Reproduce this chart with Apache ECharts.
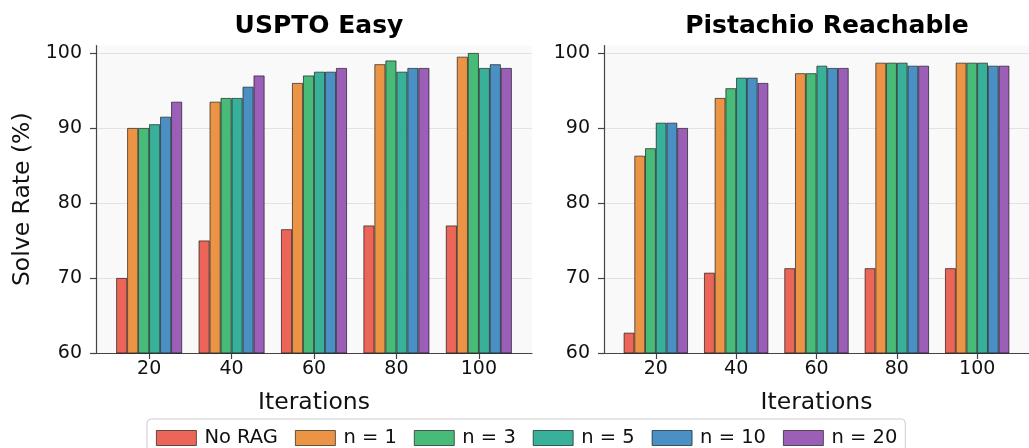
<!DOCTYPE html>
<html>
<head>
<meta charset="utf-8">
<script src="https://cdn.jsdelivr.net/npm/echarts@6/dist/echarts.min.js"></script>
<style>
  html, body { margin: 0; padding: 0; background: #ffffff; }
  #chart { width: 1029px; height: 448px; }
</style>
</head>
<body>
<div id="chart"></div>
<script>
// ---------- data ----------
const categories = ['20', '40', '60', '80', '100'];
const seriesNames = ['No RAG', 'n = 1', 'n = 3', 'n = 5', 'n = 10', 'n = 20'];
const panelTitles = ['USPTO Easy', 'Pistachio Reachable'];
const yTicks = [60, 70, 80, 90, 100];

// USPTO Easy
const usptoNoRAG = [70.0, 75.0, 76.5, 77.0, 77.0];
const usptoN1    = [90.0, 93.5, 96.0, 98.5, 99.5];
const usptoN3    = [90.0, 94.0, 97.0, 99.0, 100.0];
const usptoN5    = [90.5, 94.0, 97.5, 97.5, 98.0];
const usptoN10   = [91.5, 95.5, 97.5, 98.0, 98.5];
const usptoN20   = [93.5, 97.0, 98.0, 98.0, 98.0];

// Pistachio Reachable
const pistNoRAG = [62.7, 70.7, 71.3, 71.3, 71.3];
const pistN1    = [86.3, 94.0, 97.3, 98.7, 98.7];
const pistN3    = [87.3, 95.3, 97.3, 98.7, 98.7];
const pistN5    = [90.7, 96.7, 98.3, 98.7, 98.7];
const pistN10   = [90.7, 96.7, 98.0, 98.3, 98.3];
const pistN20   = [90.0, 96.0, 98.0, 98.3, 98.3];

const panels = [
  [usptoNoRAG, usptoN1, usptoN3, usptoN5, usptoN10, usptoN20],
  [pistNoRAG, pistN1, pistN3, pistN5, pistN10, pistN20]
];

const colors = ['#eb6658', '#ec9445', '#48bb78', '#38b09a', '#4a90c4', '#9b5fb8'];

// ---------- chart ----------
const FONT = 'DejaVu Sans';
const chart = echarts.init(document.getElementById('chart'), null, { renderer: 'canvas' });

const gridLefts = [96, 604];
const gridW = 436;
const gridTop = 45.5;
const gridH = 307.5;
const catIdx = categories.map((c, i) => i);

const grids = gridLefts.map(l => ({
  left: l, top: gridTop, width: gridW, height: gridH,
  show: true, backgroundColor: '#f9f9f9', borderWidth: 0, containLabel: false
}));

const xAxes = gridLefts.map((l, gi) => ({
  type: 'value', gridIndex: gi, min: -0.645, max: 4.645,
  name: 'Iterations', nameLocation: 'middle', nameGap: 38,
  nameTextStyle: { fontFamily: FONT, fontSize: 23.5, color: '#111' },
  axisLine: { show: true, onZero: false, lineStyle: { color: '#444', width: 1.2 } },
  axisTick: { show: true, length: 6, customValues: catIdx, lineStyle: { color: '#444', width: 1.2 } },
  axisLabel: { show: true, customValues: catIdx, margin: 7, fontFamily: FONT, fontSize: 19, color: '#111',
               formatter: v => categories[Math.round(v)] },
  splitLine: { show: false }
}));

const yAxes = gridLefts.map((l, gi) => ({
  type: 'value', gridIndex: gi, min: 60, max: 101,
  name: gi === 0 ? 'Solve Rate (%)' : '', nameLocation: 'middle', nameGap: 61,
  nameTextStyle: { fontFamily: FONT, fontSize: 23.5, color: '#111' },
  axisLine: { show: true, onZero: false, lineStyle: { color: '#444', width: 1.2 } },
  axisTick: { show: true, length: 6, customValues: yTicks, lineStyle: { color: '#444', width: 1.2 } },
  axisLabel: { show: true, customValues: yTicks, margin: 14, fontFamily: FONT, fontSize: 19, color: '#111' },
  splitLine: { show: true, lineStyle: { color: '#e2e2e2', width: 1 } }
}));

const series = [];
panels.forEach((panel, gi) => {
  panel.forEach((vals, si) => {
    series.push({
      type: 'bar', name: seriesNames[si], xAxisIndex: gi, yAxisIndex: gi,
      data: vals.map((v, i) => [catIdx[i], v]),
      barGap: '0%', barCategoryGap: '20%',
      itemStyle: { color: colors[si], borderColor: 'rgba(0,0,0,0.75)', borderWidth: 0.8 },
      emphasis: { disabled: true },
      animation: false
    });
  });
});

chart.setOption({
  animation: false,
  color: colors,
  title: panelTitles.map((t, gi) => ({
    text: t, left: gridLefts[gi] + gridW / 2, top: 9, textAlign: 'center',
    textStyle: { fontFamily: FONT, fontSize: 25, fontWeight: 'bold', color: '#000' }
  })),
  legend: {
    data: seriesNames, left: 147, top: 419, orient: 'horizontal',
    itemWidth: 40, itemHeight: 15, itemGap: 17,
    padding: [9, 8, 12, 9],
    backgroundColor: '#ffffff', borderColor: '#cccccc', borderWidth: 1, borderRadius: 4,
    textStyle: { fontFamily: FONT, fontSize: 19.5, color: '#111', padding: [0, 0, 0, 3] },
    itemStyle: { borderColor: 'rgba(0,0,0,0.75)', borderWidth: 0.8 },
    icon: 'rect'
  },
  grid: grids,
  xAxis: xAxes,
  yAxis: yAxes,
  series: series
});
</script>
</body>
</html>
